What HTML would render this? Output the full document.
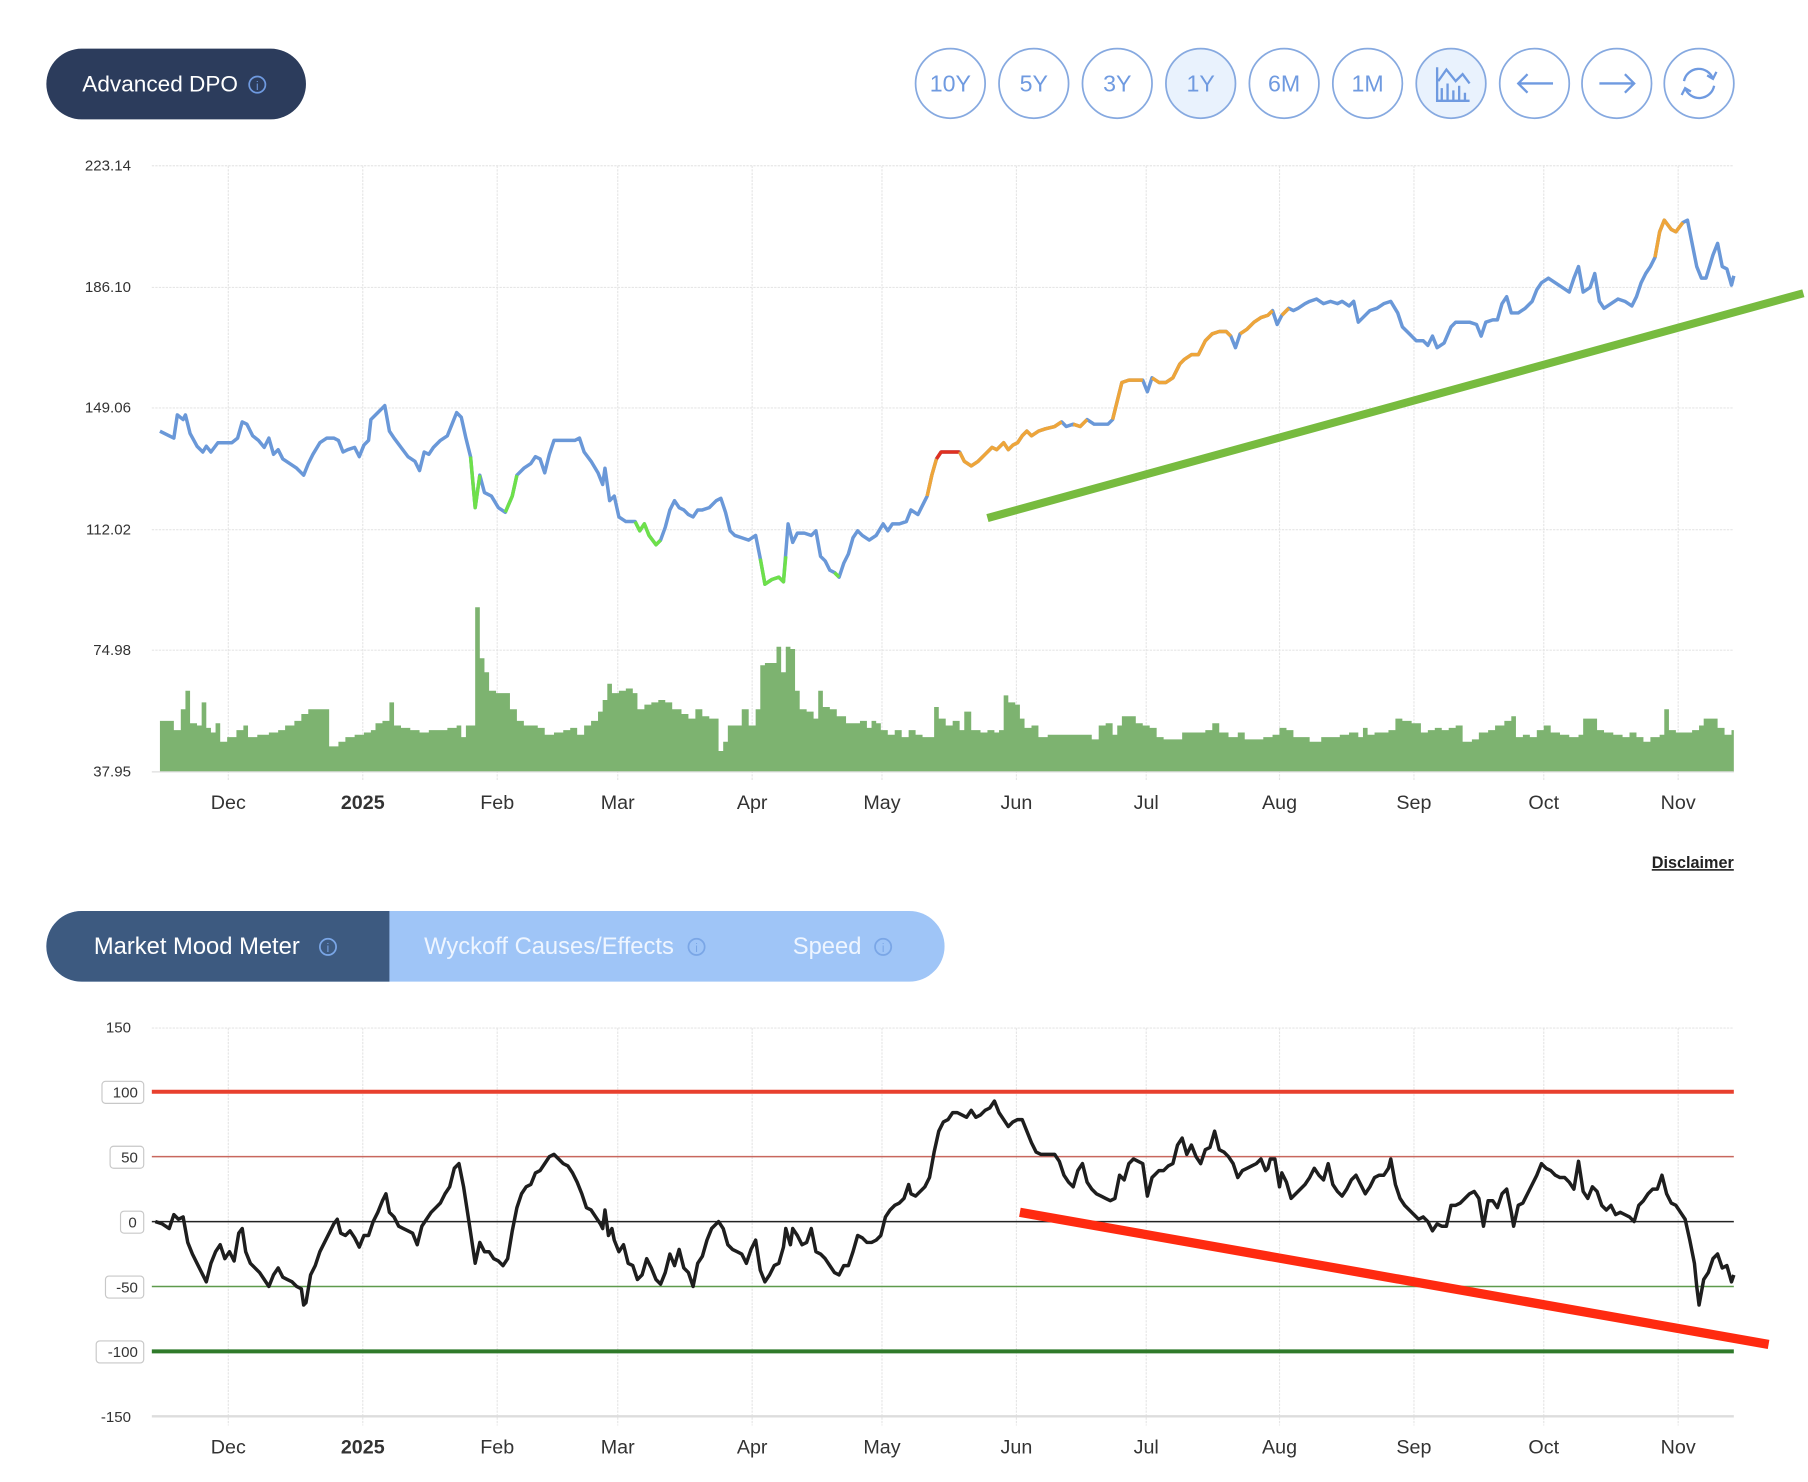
<!DOCTYPE html>
<html><head><meta charset="utf-8"><style>
html,body{margin:0;padding:0;background:#fff;}
svg{display:block;font-family:"Liberation Sans",sans-serif;}
</style></head><body>
<svg width="1808" height="1482" viewBox="0 0 1560 1278.7" preserveAspectRatio="none" xmlns="http://www.w3.org/2000/svg">
<rect x="40" y="42" width="224" height="61" rx="30.5" fill="#2c3c5c"/>
<text x="71" y="79" font-size="19.5" fill="#fff">Advanced DPO</text>
<circle cx="222" cy="73" r="7" fill="none" stroke="#6f9ae0" stroke-width="1.5"/>
<text x="222" y="77.5" font-size="10" fill="#6f9ae0" text-anchor="middle">i</text>
<g stroke="#86a9e0" stroke-width="1.5">
<circle cx="820" cy="72" r="30" fill="#fff"/><circle cx="892" cy="72" r="30" fill="#fff"/>
<circle cx="964" cy="72" r="30" fill="#fff"/><circle cx="1036" cy="72" r="30" fill="#e9f2fd"/>
<circle cx="1108" cy="72" r="30" fill="#fff"/><circle cx="1180" cy="72" r="30" fill="#fff"/>
<circle cx="1252" cy="72" r="30" fill="#e9f2fd"/><circle cx="1324" cy="72" r="30" fill="#fff"/>
<circle cx="1395" cy="72" r="30" fill="#fff"/><circle cx="1466" cy="72" r="30" fill="#fff"/>
</g>
<g font-size="20" fill="#6f9ae0" text-anchor="middle">
<text x="820" y="79">10Y</text><text x="892" y="79">5Y</text><text x="964" y="79">3Y</text>
<text x="1036" y="79">1Y</text><text x="1108" y="79">6M</text><text x="1180" y="79">1M</text>
</g>
<g fill="none" stroke="#6f9ae0" stroke-width="2">
<path d="M1240 58 V87 H1268 M1244 86 V76 M1249 86 V72 M1254 86 V78 M1259 86 V74 M1264 86 V80 M1241 70 L1248 60 L1256 70 L1262 64 L1268 72"/>
<path d="M1310 72 H1340 M1318 64 L1310 72 L1318 80"/>
<path d="M1380 72 H1410 M1402 64 L1410 72 L1402 80"/>
<path d="M1453 70 A13 13 0 0 1 1478 68 M1479 74 A13 13 0 0 1 1454 76 M1473 65 L1478 68 L1481 62 M1459 79 L1454 76 L1451 82"/>
</g>
<g stroke="#e6e6e6" stroke-width="1" stroke-dasharray="2,1">
<line x1="131" y1="143" x2="1496" y2="143"/><line x1="131" y1="248" x2="1496" y2="248"/>
<line x1="131" y1="352" x2="1496" y2="352"/><line x1="131" y1="457" x2="1496" y2="457"/>
<line x1="131" y1="561" x2="1496" y2="561"/>
<line x1="197" y1="143" x2="197" y2="674"/><line x1="313" y1="143" x2="313" y2="674"/>
<line x1="429" y1="143" x2="429" y2="674"/><line x1="533" y1="143" x2="533" y2="674"/>
<line x1="649" y1="143" x2="649" y2="674"/><line x1="761" y1="143" x2="761" y2="674"/>
<line x1="877" y1="143" x2="877" y2="674"/><line x1="989" y1="143" x2="989" y2="674"/>
<line x1="1104" y1="143" x2="1104" y2="674"/><line x1="1220" y1="143" x2="1220" y2="674"/>
<line x1="1332" y1="143" x2="1332" y2="674"/><line x1="1448" y1="143" x2="1448" y2="674"/>
</g>
<g font-size="13" fill="#333" text-anchor="end">
<text x="113" y="147">223.14</text><text x="113" y="252">186.10</text><text x="113" y="356">149.06</text>
<text x="113" y="461">112.02</text><text x="113" y="565">74.98</text><text x="113" y="670">37.95</text>
</g>
<polygon fill="#7db370" points="138,666 138,622 150,622 150,630 156,630 156,612 160,612 160,596 164,596 164,624 170,624 170,626 174,626 174,606 178,606 178,628 182,628 182,632 186,632 186,624 190,624 190,640 196,640 196,636 204,636 204,630 210,630 210,626 214,626 214,636 222,636 222,634 232,634 232,632 240,632 240,630 246,630 246,626 254,626 254,622 260,622 260,616 266,616 266,612 280,612 280,612 284,612 284,644 292,644 292,640 298,640 298,636 306,636 306,634 314,634 314,632 320,632 320,630 324,630 324,624 330,624 330,622 336,622 336,606 340,606 340,626 346,626 346,628 354,628 354,630 362,630 362,632 370,632 370,630 386,630 386,628 394,628 394,626 398,626 398,636 402,636 402,626 410,626 410,524 414,524 414,568 418,568 418,580 422,580 422,596 428,596 428,598 440,598 440,612 446,612 446,622 452,622 452,626 464,626 464,628 470,628 470,634 478,634 478,632 486,632 486,630 492,630 492,628 498,628 498,634 504,634 504,626 510,626 510,622 516,622 516,614 520,614 520,604 524,604 524,590 528,590 528,598 534,598 534,596 540,596 540,594 546,594 546,598 550,598 550,612 556,612 556,608 562,608 562,606 568,606 568,604 574,604 574,606 580,606 580,612 588,612 588,616 594,616 594,620 600,620 600,612 606,612 606,618 612,618 612,620 620,620 620,648 624,648 624,640 628,640 628,626 640,626 640,612 646,612 646,626 652,626 652,612 656,612 656,574 660,574 660,572 670,572 670,558 674,558 674,580 678,580 678,558 682,558 682,560 686,560 686,596 690,596 690,612 696,612 696,614 702,614 702,620 706,620 706,596 710,596 710,610 716,610 716,612 722,612 722,618 730,618 730,624 742,624 742,622 748,622 748,628 752,628 752,622 756,622 756,624 760,624 760,630 766,630 766,634 772,634 772,630 778,630 778,636 784,636 784,630 790,630 790,634 796,634 796,636 800,636 800,636 806,636 806,610 810,610 810,620 816,620 816,626 822,626 822,622 828,622 828,630 832,630 832,614 838,614 838,630 846,630 846,632 852,632 852,630 858,630 858,632 862,632 862,630 866,630 866,600 870,600 870,606 876,606 876,608 880,608 880,620 884,620 884,628 890,628 890,626 896,626 896,636 904,636 904,634 942,634 942,638 948,638 948,626 954,626 954,624 960,624 960,634 964,634 964,626 968,626 968,618 980,618 980,624 986,624 986,626 992,626 992,628 998,628 998,636 1004,636 1004,638 1020,638 1020,632 1040,632 1040,630 1046,630 1046,624 1052,624 1052,632 1060,632 1060,636 1068,636 1068,632 1074,632 1074,638 1090,638 1090,636 1098,636 1098,634 1104,634 1104,628 1110,628 1110,630 1116,630 1116,636 1130,636 1130,640 1140,640 1140,636 1156,636 1156,634 1164,634 1164,632 1172,632 1172,636 1176,636 1176,628 1180,628 1180,634 1186,634 1186,632 1198,632 1198,630 1204,630 1204,620 1210,620 1210,622 1218,622 1218,624 1226,624 1226,632 1232,632 1232,630 1238,630 1238,628 1244,628 1244,630 1250,630 1250,628 1256,628 1256,626 1262,626 1262,640 1270,640 1270,638 1276,638 1276,632 1284,632 1284,630 1290,630 1290,626 1298,626 1298,622 1304,622 1304,618 1308,618 1308,636 1314,636 1314,634 1320,634 1320,636 1326,636 1326,630 1332,630 1332,626 1338,626 1338,632 1346,632 1346,634 1354,634 1354,636 1362,636 1362,634 1366,634 1366,620 1378,620 1378,630 1384,630 1384,632 1392,632 1392,634 1400,634 1400,636 1406,636 1406,632 1412,632 1412,636 1418,636 1418,640 1424,640 1424,636 1432,636 1432,634 1436,634 1436,612 1440,612 1440,630 1446,630 1446,632 1460,632 1460,630 1466,630 1466,626 1470,626 1470,620 1482,620 1482,628 1488,628 1488,634 1494,634 1494,630 1496,630 1496,666"/>
<line x1="131" y1="666" x2="1496" y2="666" stroke="#ddd"/>
<polyline fill="none" stroke="#6a98d8" stroke-width="3" stroke-linejoin="round" points="138,372 146,376 150,378 153,358 158,362 160,358 164,374 170,385 175,390 178,385 182,390 188,382 195,382 200,382 205,378 209,364 213,366 218,376 223,380 228,386 232,378 236,392 240,388 244,396 250,400 256,404 262,410 266,400 270,392 276,382 282,378 288,378 292,380 296,390 300,388 306,386 310,394 314,384 318,380 320,362 326,356 332,350 336,372 340,378 346,386 352,394 358,398 362,406 366,390 370,392 374,386 380,380 386,376 390,366 394,356 398,360 402,378 406,394 410,438 414,410 418,425 424,428 430,438 436,442 442,428 446,410 452,404 458,400 462,394 466,396 470,408 474,392 478,380 484,380 490,380 496,380 500,378 504,390 510,398 516,408 520,418 522,404 526,432 530,428 534,446 540,450 548,450 552,458 556,452 560,462 566,470 570,466 574,455 578,440 582,432 586,438 590,440 594,444 598,446 602,440 606,440 612,438 618,432 622,430 626,442 630,458 634,462 640,464 646,466 652,462 656,482 660,504 666,500 672,498 676,502 680,452 684,468 688,460 694,460 700,462 704,458 708,480 712,484 716,492 720,494 724,498 728,486 732,478 736,464 740,458 744,462 750,466 756,462 762,452 766,458 770,452 776,452 782,450 786,440 792,444 796,436 800,428 804,410 808,396 812,390 820,390 828,390 832,398 838,402 844,398 850,392 856,386 860,388 866,382 870,388 874,384 878,382 882,376 886,372 890,376 896,372 902,370 910,368 916,364 920,368 926,366 932,368 938,362 944,366 950,366 956,366 960,362 964,346 968,330 974,328 980,328 986,328 990,338 994,326 1000,330 1006,330 1012,326 1018,314 1022,310 1028,306 1034,306 1040,294 1046,288 1052,286 1058,286 1062,290 1066,300 1070,288 1076,284 1082,278 1088,274 1094,272 1098,268 1102,280 1106,272 1112,266 1116,268 1120,266 1126,262 1130,260 1136,258 1142,262 1148,260 1154,262 1158,260 1164,264 1168,260 1172,278 1176,274 1182,268 1188,266 1194,262 1200,260 1206,270 1210,282 1216,288 1222,294 1228,294 1232,298 1236,290 1240,300 1246,296 1252,282 1256,278 1262,278 1268,278 1274,280 1278,290 1282,278 1288,276 1292,276 1296,262 1300,256 1304,270 1310,270 1316,266 1322,260 1326,250 1330,244 1336,240 1342,244 1348,248 1354,252 1358,240 1362,230 1366,252 1372,248 1376,236 1380,260 1384,266 1390,262 1396,258 1402,260 1408,264 1412,256 1416,244 1420,236 1424,230 1428,222 1432,200 1436,190 1442,198 1446,200 1452,192 1456,190 1460,210 1464,230 1468,240 1472,240 1478,220 1482,210 1486,230 1490,232 1494,246 1496,238"/>
<g fill="none" stroke-width="3" stroke-linejoin="round">
<polyline stroke="#6ee04a" points="406,394 410,438 414,410"/>
<polyline stroke="#6ee04a" points="436,442 442,428 446,410"/>
<polyline stroke="#6ee04a" points="548,450 552,458 556,452 560,462 566,470 570,466"/>
<polyline stroke="#6ee04a" points="656,482 660,504 666,500 672,498 676,502 678,480"/>
<polyline stroke="#6ee04a" points="720,494 724,498"/>
<polyline stroke="#eea53a" points="800,428 804,410 808,396"/>
<polyline stroke="#e03020" points="808,396 812,390 820,390 828,390"/>
<polyline stroke="#eea53a" points="828,390 832,398 838,402 844,398 850,392 856,386 860,388 866,382 870,388 874,384 878,382 882,376 886,372 890,376 896,372 902,370 910,368 916,364"/>
<polyline stroke="#eea53a" points="926,366 932,368 938,362"/>
<polyline stroke="#eea53a" points="960,362 964,346 968,330 974,328 980,328 986,328"/>
<polyline stroke="#eea53a" points="994,326 1000,330 1006,330 1012,326 1018,314 1022,310 1028,306 1034,306 1040,294 1046,288 1052,286 1058,286 1062,290"/>
<polyline stroke="#eea53a" points="1070,288 1076,284 1082,278 1088,274 1094,272 1098,268"/>
<polyline stroke="#eea53a" points="1106,272 1112,266"/>
<polyline stroke="#eea53a" points="1428,222 1432,200 1436,190 1442,198 1446,200 1452,192"/>
</g>
<line x1="852" y1="447" x2="1556" y2="253" stroke="#77bb3f" stroke-width="7"/>
<g font-size="17" fill="#333" text-anchor="middle">
<text x="197" y="698">Dec</text><text x="313" y="698" font-weight="bold">2025</text><text x="429" y="698">Feb</text>
<text x="533" y="698">Mar</text><text x="649" y="698">Apr</text><text x="761" y="698">May</text>
<text x="877" y="698">Jun</text><text x="989" y="698">Jul</text><text x="1104" y="698">Aug</text>
<text x="1220" y="698">Sep</text><text x="1332" y="698">Oct</text><text x="1448" y="698">Nov</text>
</g>
<text x="1496" y="749" font-size="14" font-weight="bold" fill="#222" text-anchor="end" text-decoration="underline">Disclaimer</text>
<rect x="40" y="786" width="775" height="61" rx="30.5" fill="#9fc5f7"/>
<path d="M70.5 786 H336 V847 H70.5 A30.5 30.5 0 0 1 70.5 786 Z" fill="#3d5a80"/>
<text x="81" y="823" font-size="20.5" fill="#fff">Market Mood Meter</text>
<circle cx="283" cy="817" r="7" fill="none" stroke="#7aa6e6" stroke-width="1.5"/>
<text x="283" y="821.5" font-size="10" fill="#7aa6e6" text-anchor="middle">i</text>
<text x="366" y="823" font-size="20.5" fill="#eef5ff">Wyckoff Causes/Effects</text>
<circle cx="601" cy="817" r="7" fill="none" stroke="#7aa6e6" stroke-width="1.5"/>
<text x="601" y="821.5" font-size="10" fill="#7aa6e6" text-anchor="middle">i</text>
<text x="684" y="823" font-size="20.5" fill="#eef5ff">Speed</text>
<circle cx="762" cy="817" r="7" fill="none" stroke="#7aa6e6" stroke-width="1.5"/>
<text x="762" y="821.5" font-size="10" fill="#7aa6e6" text-anchor="middle">i</text>
<g stroke="#e6e6e6" stroke-width="1" stroke-dasharray="2,1">
<line x1="131" y1="887" x2="1496" y2="887"/>
<line x1="197" y1="887" x2="197" y2="1230"/><line x1="313" y1="887" x2="313" y2="1230"/>
<line x1="429" y1="887" x2="429" y2="1230"/><line x1="533" y1="887" x2="533" y2="1230"/>
<line x1="649" y1="887" x2="649" y2="1230"/><line x1="761" y1="887" x2="761" y2="1230"/>
<line x1="877" y1="887" x2="877" y2="1230"/><line x1="989" y1="887" x2="989" y2="1230"/>
<line x1="1104" y1="887" x2="1104" y2="1230"/><line x1="1220" y1="887" x2="1220" y2="1230"/>
<line x1="1332" y1="887" x2="1332" y2="1230"/><line x1="1448" y1="887" x2="1448" y2="1230"/>
</g>
<line x1="131" y1="1222" x2="1496" y2="1222" stroke="#ddd" stroke-width="2"/>
<line x1="131" y1="942" x2="1496" y2="942" stroke="#e8402e" stroke-width="3.5"/>
<line x1="131" y1="998" x2="1496" y2="998" stroke="#c8675e" stroke-width="1.3"/>
<line x1="131" y1="1054" x2="1496" y2="1054" stroke="#222" stroke-width="1.3"/>
<line x1="131" y1="1110" x2="1496" y2="1110" stroke="#5e9a4c" stroke-width="1.3"/>
<line x1="131" y1="1166" x2="1496" y2="1166" stroke="#2f7a2a" stroke-width="3.5"/>
<g fill="#fff" stroke="#c8c8c8" stroke-width="1">
<rect x="88" y="933" width="36" height="19" rx="3"/><rect x="95" y="989" width="29" height="19" rx="3"/>
<rect x="104" y="1045" width="20" height="19" rx="3"/><rect x="91" y="1101" width="33" height="19" rx="3"/>
<rect x="83" y="1157" width="41" height="19" rx="3"/>
</g>
<g font-size="13" fill="#333" text-anchor="end">
<text x="113" y="891">150</text><text x="119" y="947">100</text><text x="119" y="1003">50</text>
<text x="118" y="1059">0</text><text x="119" y="1115">-50</text><text x="119" y="1171">-100</text>
<text x="113" y="1227">-150</text>
</g>
<polyline fill="none" stroke="#1e1e1e" stroke-width="3" stroke-linejoin="round" points="134,1054 140,1056 146,1060 150,1048 154,1052 158,1050 162,1072 166,1082 170,1090 174,1098 178,1106 182,1090 186,1080 190,1074 194,1086 198,1080 202,1088 206,1064 209,1060 212,1080 216,1090 220,1094 224,1098 228,1104 232,1110 236,1100 240,1094 244,1102 248,1104 252,1106 256,1110 260,1112 262,1126 264,1124 268,1100 272,1092 276,1080 280,1072 284,1064 288,1056 291,1052 294,1064 298,1066 302,1062 306,1068 310,1076 314,1066 318,1066 322,1054 326,1046 330,1036 333,1030 336,1046 340,1050 344,1058 348,1060 352,1062 356,1064 360,1074 364,1058 368,1052 372,1046 376,1042 380,1038 384,1030 388,1024 392,1008 396,1004 400,1024 404,1050 407,1070 410,1090 414,1072 418,1080 422,1080 426,1086 430,1088 434,1092 438,1086 442,1062 446,1042 450,1030 454,1024 458,1022 462,1012 466,1010 470,1004 474,998 478,996 482,1000 486,1004 490,1006 494,1012 498,1020 502,1030 506,1042 510,1044 514,1050 518,1056 520,1060 522,1044 525,1066 528,1060 530,1070 534,1080 538,1074 542,1090 546,1092 550,1104 554,1100 558,1086 562,1094 566,1104 570,1108 574,1098 578,1082 582,1092 586,1078 590,1094 594,1098 598,1110 602,1090 606,1084 610,1070 614,1060 620,1054 624,1060 628,1074 632,1078 636,1080 640,1082 644,1090 648,1078 652,1070 656,1096 660,1106 664,1100 668,1092 672,1090 676,1076 678,1060 682,1074 684,1060 688,1066 692,1074 696,1072 700,1060 704,1080 708,1082 712,1086 716,1092 720,1098 724,1100 728,1092 732,1092 736,1080 740,1066 744,1068 748,1072 752,1072 756,1070 760,1066 764,1050 768,1044 772,1040 776,1038 780,1034 784,1022 786,1030 790,1032 794,1028 798,1024 802,1016 806,994 810,976 814,968 818,966 822,960 826,960 830,962 834,964 838,958 842,964 846,962 850,958 854,956 858,950 862,960 866,966 870,972 874,968 878,966 882,966 886,976 890,986 894,994 898,996 902,996 906,996 910,996 914,1002 918,1014 922,1020 926,1024 930,1010 934,1004 938,1020 942,1026 946,1030 950,1032 954,1034 958,1036 962,1034 966,1014 970,1018 974,1004 978,1000 982,1002 986,1004 990,1032 994,1016 996,1014 1000,1010 1004,1010 1008,1006 1012,1004 1016,988 1020,982 1024,996 1028,988 1032,998 1036,1004 1040,992 1044,990 1048,976 1052,992 1056,994 1060,998 1064,1004 1068,1016 1072,1010 1076,1008 1080,1006 1084,1004 1088,1000 1092,1010 1094,1008 1096,1000 1100,1000 1104,1024 1106,1012 1110,1020 1114,1034 1118,1030 1122,1026 1126,1022 1130,1016 1134,1008 1138,1014 1142,1018 1146,1004 1150,1022 1154,1028 1158,1032 1162,1026 1166,1018 1170,1014 1174,1022 1178,1030 1182,1024 1186,1016 1190,1014 1194,1014 1198,1008 1200,1000 1204,1022 1208,1034 1212,1040 1216,1044 1220,1048 1224,1052 1228,1050 1232,1054 1236,1062 1240,1056 1244,1058 1248,1058 1252,1040 1256,1040 1260,1038 1264,1034 1268,1030 1272,1028 1276,1034 1280,1058 1284,1036 1288,1036 1292,1042 1296,1030 1300,1026 1304,1046 1306,1058 1310,1040 1314,1038 1318,1030 1322,1022 1326,1014 1330,1004 1334,1008 1338,1010 1342,1014 1346,1016 1350,1016 1354,1020 1358,1026 1362,1002 1366,1028 1370,1034 1374,1024 1378,1028 1382,1040 1386,1044 1390,1040 1394,1048 1398,1046 1402,1048 1406,1050 1410,1054 1414,1040 1418,1036 1422,1030 1426,1026 1430,1026 1434,1014 1438,1030 1442,1038 1446,1040 1450,1046 1454,1052 1458,1070 1462,1090 1464,1110 1466,1126 1470,1104 1474,1098 1478,1086 1482,1082 1486,1094 1490,1092 1494,1106 1496,1100"/>
<line x1="880" y1="1046" x2="1526" y2="1160" stroke="#ff2a10" stroke-width="8"/>
<g font-size="17" fill="#333" text-anchor="middle">
<text x="197" y="1254">Dec</text><text x="313" y="1254" font-weight="bold">2025</text><text x="429" y="1254">Feb</text>
<text x="533" y="1254">Mar</text><text x="649" y="1254">Apr</text><text x="761" y="1254">May</text>
<text x="877" y="1254">Jun</text><text x="989" y="1254">Jul</text><text x="1104" y="1254">Aug</text>
<text x="1220" y="1254">Sep</text><text x="1332" y="1254">Oct</text><text x="1448" y="1254">Nov</text>
</g>
</svg>
</body></html>
